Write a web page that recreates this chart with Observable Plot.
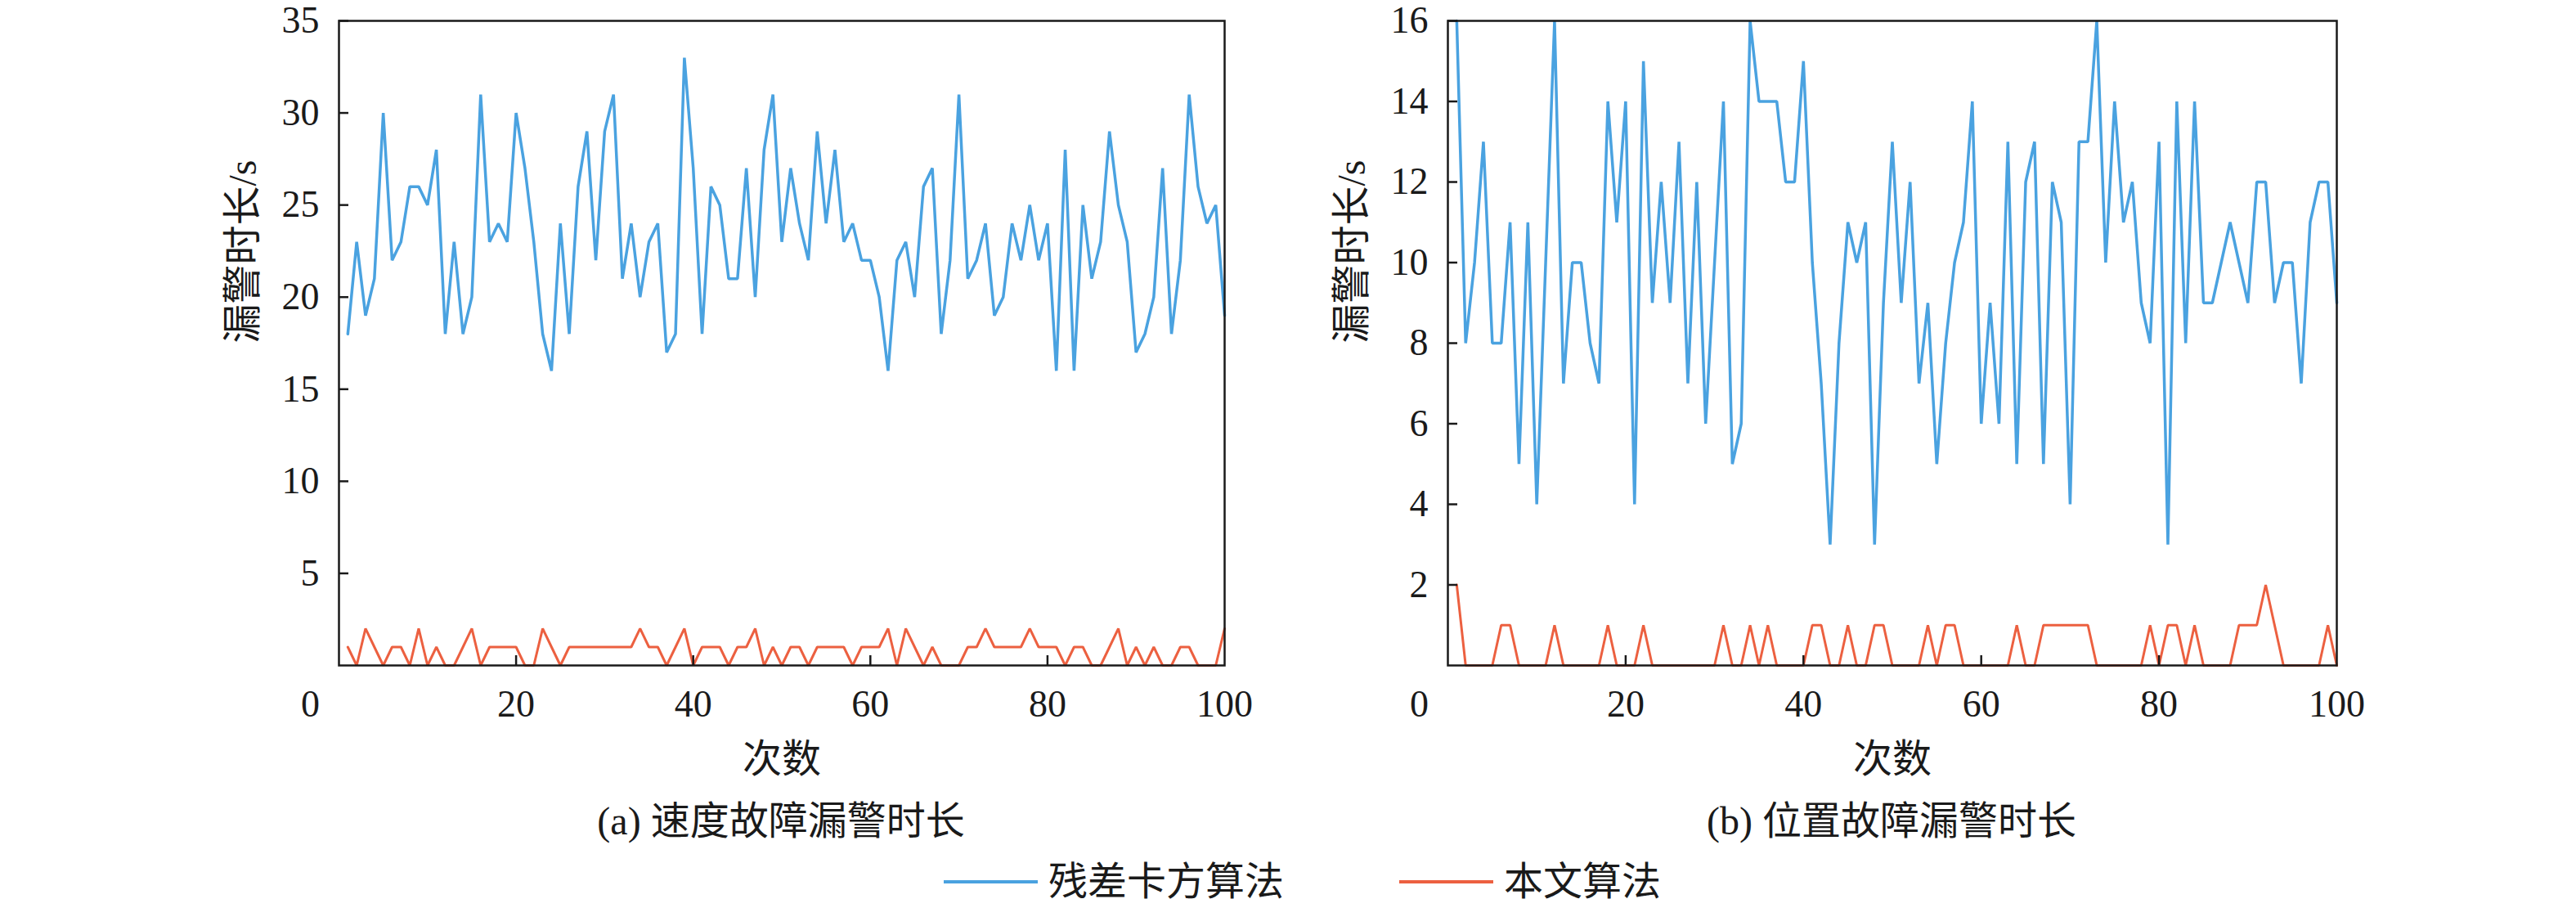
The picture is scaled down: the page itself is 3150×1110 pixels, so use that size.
<!DOCTYPE html>
<html>
<head>
<meta charset="utf-8">
<script src="https://cdn.jsdelivr.net/npm/d3@7"></script>
<script src="https://cdn.jsdelivr.net/npm/@observablehq/plot@0.6"></script>
<style>
  html, body { margin: 0; padding: 0; background: #ffffff; }
  #page { position: relative; width: 3150px; height: 1110px; overflow: hidden;
          font-family: "Liberation Serif", "Noto Sans CJK SC", serif; color: #1a1a1a; }
  .chart { position: absolute; top: 0; }
  .cap { position: absolute; font-size: 48px; line-height: 48px; white-space: nowrap; transform: translateX(-50%); }
  .leg { position: absolute; display: flex; align-items: center; font-size: 48px; line-height: 48px; white-space: nowrap; }
  .leg .sw { display: inline-block; width: 115px; height: 4px; margin-right: 13px; }
</style>
</head>
<body>
<div id="page">
  <div id="chartA" class="chart" style="left:0px"></div>
  <div id="chartB" class="chart" style="left:1560px"></div>
  <div class="cap" style="left:955px; top:980px">(a) 速度故障漏警时长</div>
  <div class="cap" style="left:2313px; top:980px">(b) 位置故障漏警时长</div>
  <div class="leg" style="left:1154px; top:1054px"><span class="sw" style="background:#4aa2e0"></span>残差卡方算法</div>
  <div class="leg" style="left:1711px; top:1054px"><span class="sw" style="background:#ec6040"></span>本文算法</div>
</div>
<script>
// x categories: run number 1..100
const runs = d3.range(1, 101);

// (a) speed fault missed-alarm duration (s)
const speedChiSquare = [18,23,19,21,30,22,23,26,26,25, 28,18,23,18,20,31,23,24,23,30,
  27,23,18,16,24,18,26,29,22,29, 31,21,24,20,23,24,17,18,33,27,
  18,26,25,21,21,27,20,28,31,23, 27,24,22,29,24,28,23,24,22,22,
  20,16,22,23,20,26,27,18,22,31, 21,22,24,19,20,24,22,25,22,24,
  16,28,16,25,21,23,29,25,23,17, 18,20,27,18,22,31,26,24,25,19];
const speedProposed = [1,0,2,1,0,1,1,0,2,0, 1,0,0,1,2,0,1,1,1,1,
  0,0,2,1,0,1,1,1,1,1, 1,1,1,2,1,1,0,1,2,0,
  1,1,1,0,1,1,2,0,1,0, 1,1,0,1,1,1,1,0,1,1,
  1,2,0,2,1,0,1,0,0,0, 1,1,2,1,1,1,1,2,1,1,
  1,0,1,1,0,0,1,2,0,1, 0,1,0,0,1,1,0,0,0,2];

// (b) position fault missed-alarm duration (s)
const posChiSquare = [16,8,10,13,8,8,11,5,11,4, 10,16,7,10,10,8,7,14,11,14,
  4,15,9,12,9,13,7,12,6,10, 14,5,6,16,14,14,14,12,12,15,
  10,7,3,8,11,10,11,3,9,13, 9,12,7,9,5,8,10,11,14,6,
  9,6,13,5,12,13,5,12,11,4, 13,13,16,10,14,11,12,9,8,13,
  3,14,8,14,9,9,10,11,10,9, 12,12,9,10,10,7,11,12,12,9];
const posProposed = [2,0,0,0,0,1,1,0,0,0, 0,1,0,0,0,0,0,1,0,0,
  0,1,0,0,0,0,0,0,0,0, 1,0,0,1,0,1,0,0,0,0,
  1,1,0,0,1,0,0,1,1,0, 0,0,0,1,0,1,1,0,0,0,
  0,0,0,1,0,0,1,1,1,1, 1,1,0,0,0,0,0,0,1,0,
  1,1,0,1,0,0,0,0,1,1, 1,2,1,0,0,0,0,0,1,0];

const xTicks = [0, 20, 40, 60, 80, 100];
const speedYTicks = [5, 10, 15, 20, 25, 30, 35];
const posYTicks = [2, 4, 6, 8, 10, 12, 14, 16];
const xTitle = "次数";
const yTitle = "漏警时长/s";
const seriesNames = ["残差卡方算法", "本文算法"];
const seriesColors = ["#4aa2e0", "#ec6040"];

const FONT = '"Liberation Serif", "Noto Sans CJK SC", serif';

function makeChart({chi, prop, yMax, yTicks, width, marginLeft, marginRight}) {
  const rowsChi = runs.map((r, i) => ({run: r, value: chi[i], series: seriesNames[0]}));
  const rowsProp = runs.map((r, i) => ({run: r, value: prop[i], series: seriesNames[1]}));
  const innerX = xTicks.filter(t => t > 0 && t < 100);
  const labelX = xTicks.filter(t => t > 0);
  return Plot.plot({
    width, height: 960,
    marginTop: 25, marginBottom: 147, marginLeft, marginRight,
    style: {fontFamily: FONT, fontSize: "46px", color: "#1a1a1a", background: "transparent", overflow: "visible"},
    x: {domain: [0, 100]},
    y: {domain: [0, yMax]},
    marks: [
      Plot.line(rowsChi, {x: "run", y: "value", stroke: seriesColors[0], strokeWidth: 3.5, strokeLinejoin: "miter"}),
      Plot.line(rowsProp, {x: "run", y: "value", stroke: seriesColors[1], strokeWidth: 3, strokeLinejoin: "miter"}),
      Plot.frame({stroke: "#1a1a1a", strokeWidth: 2.5}),
      Plot.axisX({ticks: labelX, tickSize: 0, tickPadding: 30, fontSize: 46, label: null}),
      Plot.axisX({ticks: [0], tickSize: 0, tickPadding: 30, dx: -35, fontSize: 46, label: null}),
      Plot.axisX({ticks: innerX, tickSize: -12, tickFormat: () => "", strokeWidth: 2.5, label: null}),
      Plot.axisY({ticks: yTicks, tickSize: 0, tickPadding: 24, fontSize: 46, label: null}),
      Plot.axisY({ticks: yTicks, tickSize: -12, tickFormat: () => "", strokeWidth: 2.5, label: null}),
      Plot.text([xTitle], {text: d => d, frameAnchor: "bottom", dy: 130, fontSize: 48, fontFamily: FONT, fill: "#1a1a1a"}),
      Plot.text([yTitle], {text: d => d, frameAnchor: "left", dx: -117, rotate: -90, fontSize: 48, fontFamily: FONT, fill: "#1a1a1a"})
    ]
  });
}

document.getElementById("chartA").append(makeChart({
  chi: speedChiSquare, prop: speedProposed, yMax: 35, yTicks: speedYTicks,
  width: 1560, marginLeft: 414, marginRight: 63
}));
document.getElementById("chartB").append(makeChart({
  chi: posChiSquare, prop: posProposed, yMax: 16, yTicks: posYTicks,
  width: 1590, marginLeft: 210, marginRight: 293
}));
</script>
</body>
</html>
